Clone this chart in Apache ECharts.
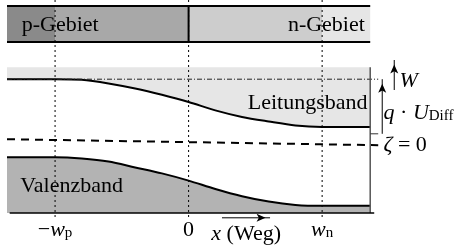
<!DOCTYPE html>
<html>
<head>
<meta charset="utf-8">
<script src="https://cdn.jsdelivr.net/npm/echarts@6/dist/echarts.min.js"></script>
<style>
  html, body { margin: 0; background: #fff; }
  #main { width: 457px; height: 247px; }
</style>
</head>
<body>
<div id="main"></div>
<script>
  // Ort x in Einheiten von w, Energie W in beliebigen Einheiten (zeta = 0)
  var bandX = [-1.36, -1, -0.8, -0.6, -0.4, -0.2, 0, 0.2, 0.4, 0.6, 0.8, 1, 1.36];
  var leitung = [1.03, 1.03, 1.02, 0.96, 0.875, 0.77, 0.65, 0.51, 0.40, 0.325, 0.26, 0.235, 0.233];
  var valenz = [-0.27, -0.27, -0.29, -0.34, -0.44, -0.54, -0.66, -0.80, -0.92, -1.01, -1.065, -1.08, -1.08];
  var fermiX = [-1.36, 1.42];
  var fermi = [0.03, -0.07];
  var refLevel = 1.03;          // strichpunktierte Linie
  var bandTop = 1.23;           // Oberkante Leitungsband-Flaeche
  var gebietEdges = [-1.36, -1, 0, 1, 1.36];
  var gebietY = [1.65, 2.25];
  var tickVals = [-1, 0, 1];
  var tickText = ['{m|\u2212}{i|w}{s|p}', '{m|0}', '{i|w}{s|n}'];
  var uDiffY = [0.12, 1.03];
  var wArrowY = [0.85, 1.35];
  var wegX = [0.25, 0.61];

  var xMin = -1.36, xMax = 2.01, yMin = -1.2, yMax = 2.3;
  var bandRight = 1.36;
  var serif = 'Liberation Serif';
  var rich = {
    m: { fontFamily: serif, fontSize: 22, color: '#000', lineHeight: 22 },
    i: { fontFamily: serif, fontSize: 22, fontStyle: 'italic', color: '#000', lineHeight: 22 },
    s: { fontFamily: serif, fontSize: 15, color: '#000', lineHeight: 12, verticalAlign: 'bottom' }
  };

  function zip(xs, ys) {
    return xs.map(function (x, i) { return [x, ys[i]]; });
  }
  function seg(p, q, style, z) {
    return {
      type: 'line', data: [p, q], symbol: 'none', clip: false, silent: true,
      lineStyle: style, z: z || 5, animation: false
    };
  }

  var gebietColors = ['#8a8a8a', '#a8a8a8', '#cdcdcd', '#e6e6e6'];
  var areas = [[{ coord: [xMin, bandTop], itemStyle: { color: '#e6e6e6' } }, { coord: [bandRight, yMin] }]];
  for (var i = 0; i < gebietEdges.length - 1; i++) {
    areas.push([{ coord: [gebietEdges[i], gebietY[1]], itemStyle: { color: gebietColors[i] } },
      { coord: [gebietEdges[i + 1], gebietY[0]] }]);
  }

  var series = [
    {
      type: 'line', data: [[xMin, yMin]], symbol: 'none', lineStyle: { width: 0 }, silent: true,
      markArea: { silent: true, animation: false, data: areas }
    },
    {
      type: 'line', data: zip(bandX, leitung), symbol: 'none', smooth: 0.3,
      lineStyle: { color: '#000', width: 2 }, areaStyle: { color: '#fff', opacity: 1, origin: 'start' },
      z: 2, silent: true, animation: false
    },
    {
      type: 'line', data: zip(bandX, valenz), symbol: 'none', smooth: 0.3,
      lineStyle: { color: '#000', width: 2 }, areaStyle: { color: '#b3b3b3', opacity: 1, origin: 'start' },
      z: 3, silent: true, animation: false
    },
    seg([fermiX[0], fermi[0]], [fermiX[1], fermi[1]], { color: '#000', width: 2, type: [8, 6] }),
    seg([xMin, refLevel], [1.42, refLevel], { color: '#222', width: 1, type: [5, 2, 1, 2] }),
    seg([bandRight, bandTop], [bandRight, yMin], { color: '#555', width: 1.5 }),
    seg([bandRight, uDiffY[0]], [1.42, uDiffY[0]], { color: '#333', width: 1 }),
    seg([xMin + 0.02, yMin], [1.39, yMin], { color: '#000', width: 1.5 }, 6),
    seg([xMin, gebietY[1]], [bandRight, gebietY[1]], { color: '#000', width: 2 }, 6),
    seg([xMin, gebietY[0]], [bandRight, gebietY[0]], { color: '#000', width: 2 }, 6),
    seg([0, gebietY[0]], [0, gebietY[1]], { color: '#000', width: 2 }, 6),
    seg([1.45, uDiffY[0]], [1.45, uDiffY[1]], { color: '#000', width: 1 }, 8),
    seg([1.54, wArrowY[0]], [1.54, wArrowY[1]], { color: '#000', width: 1 }, 8),
    seg([wegX[0], -1.28], [wegX[1], -1.28], { color: '#000', width: 1 }, 8),
    {
      // Pfeilspitzen
      type: 'line', clip: false, silent: true, z: 9, animation: false,
      showSymbol: true, showAllSymbol: true, lineStyle: { width: 0, opacity: 0 },
      itemStyle: { color: '#000' }, symbolSize: [6, 9],
      data: [
        { value: [1.45, uDiffY[1]], symbol: 'arrow', symbolOffset: [0, 4.5] },
        '-',
        { value: [1.54, wArrowY[1]], symbol: 'arrow', symbolOffset: [0, 4.5] },
        '-',
        { value: [wegX[1], -1.28], symbol: 'arrow', symbolRotate: -90, symbolOffset: [-4.5, 0] }
      ]
    }
  ];
  tickVals.forEach(function (v) {
    series.push(seg([v, 2.35], [v, -1.27], { color: '#000', width: 1, type: [2, 3] }, 7));
  });

  var chart = echarts.init(document.getElementById('main'));
  chart.setOption({
    animation: false,
    grid: { left: 7, right: 0, top: 3, bottom: 34, containLabel: false, outerBoundsMode: 'none' },
    xAxis: {
      type: 'value', min: xMin, max: xMax,
      axisLine: { show: false },
      axisTick: { show: true, customValues: tickVals, length: 4, lineStyle: { color: '#000', width: 1 } },
      axisLabel: {
        customValues: tickVals, margin: 6, rich: rich,
        formatter: function (v) { return tickText[tickVals.indexOf(v)]; }
      },
      splitLine: { show: false }
    },
    yAxis: { type: 'value', min: yMin, max: yMax, show: false, splitLine: { show: false } },
    series: series
  });

  var labels = [
    { at: [-1.25, 1.93], text: '{m|p-Gebiet}', align: 'left' },
    { at: [1.32, 1.93], text: '{m|n-Gebiet}', align: 'right' },
    { at: [1.34, 0.63], text: '{m|Leitungsband}', align: 'right' },
    { at: [-1.26, -0.75], text: '{m|Valenzband}', align: 'left' },
    { at: [1.58, 1.0], text: '{i|W}', align: 'left' },
    { at: [1.46, 0.47], text: '{i|q}{m| \u00b7 }{i|U}{s|Diff}', align: 'left' },
    { at: [1.46, -0.07], text: '{i|\u03b6}{m| = 0}', align: 'left' },
    { at: [0.17, -1.55], text: '{i|x}{m| (Weg)}', align: 'left' }
  ];
  chart.setOption({
    graphic: labels.map(function (l) {
      var p = chart.convertToPixel({ gridIndex: 0 }, l.at);
      return {
        type: 'text', x: p[0], y: p[1], silent: true, z: 20,
        style: {
          text: l.text, fontFamily: serif, fontSize: 22, fill: '#000',
          align: l.align, verticalAlign: 'middle', rich: rich
        }
      };
    })
  });
</script>
</body>
</html>
